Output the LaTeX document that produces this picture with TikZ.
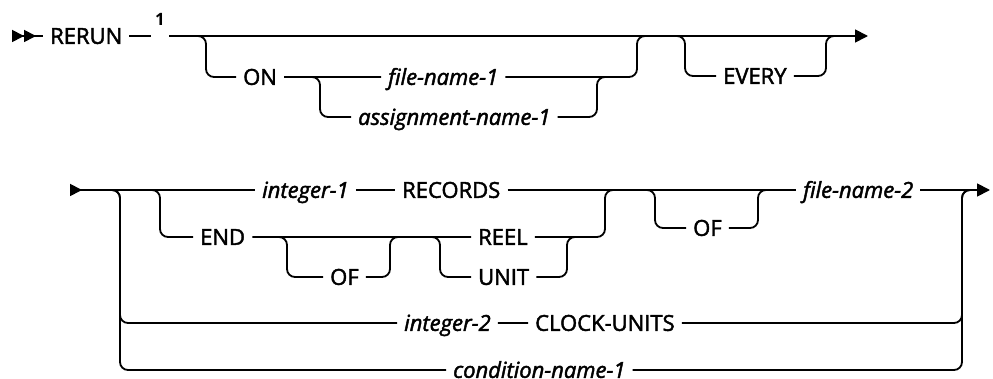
\documentclass[tikz,border=0pt]{standalone}
\usepackage{fontspec}
\setmainfont{Open Sans}
\newfontfamily\railfont{Open Sans}[FakeBold=2]
\usepackage{tikz}
\usetikzlibrary{arrows.meta,positioning,calc}

\begin{document}
\begin{tikzpicture}[x=1pt,y=-1pt]
\tikzstyle{K}=[inner xsep=7pt,inner ysep=0pt,anchor=west,text height=20.7pt,
text depth=5pt,font=\railfont\fontsize{22}{26}\selectfont]
\tikzstyle{V}=[K,font=\railfont\fontsize{22}{26}\selectfont\itshape]
\tikzstyle{R}=[line width=1.8pt,rounded corners=8pt]
\useasboundingbox (0,0) rectangle (993,379);
% first line
\coordinate (start) at (12,36);
\coordinate (end1) at (868,36);
\coordinate (onL) at (206,36);
\coordinate (onR) at (637,36);
\coordinate (asgL) at (320,77);
\coordinate (asgR) at (597,77);
\coordinate (evL) at (685,36);
\coordinate (evR) at (826,36);
\node[K](rerun) at (43,36){RERUN};
\node[inner xsep=4pt,inner ysep=0pt,anchor=base,font=\bfseries\fontsize{17}{20}\selectfont](note) at (160,26){1};
\node[K](on) at (236,77){ON};
\node[V](fn1) at (381,77){file-name-1};
\node[V](asg) at (351,117){assignment-name-1};
\node[K](every) at (716,76){EVERY};
\draw[R,{Triangle[reversed,length=12pt,width=12pt]Triangle[reversed,length=12pt,width=12pt]}-]
(start)--(rerun);
\draw[R](rerun)--(rerun-|note.west);
\draw[R,-{Triangle[length=13pt,width=13pt]}](rerun-|note.east)--(end1);
\draw[R]([xshift=-10pt]onL)--(onL)--(onL|-on)--(on)--(fn1)--(onR|-fn1)--(onR)--([xshift=10pt]onR);
\draw[R]([xshift=-10pt]asgL)--(asgL)--(asgL|-asg)--(asg)--(asgR|-asg)--(asgR)--([xshift=10pt]asgR);
\draw[R]([xshift=-10pt]evL)--(evL)--(evL|-every)--(every)--(evR|-every)--(evR)--([xshift=10pt]evR);
% second line
\coordinate (start2) at (70,190);
\coordinate (end2) at (990,190);
\coordinate (bigL) at (120,190);
\coordinate (bigR) at (962,190);
\coordinate (endL) at (160,190);
\coordinate (ofA) at (287,237);
\coordinate (ofB) at (390,237);
\coordinate (ruL) at (440,237);
\coordinate (ruR) at (567,237);
\coordinate (reelR) at (605,190);
\coordinate (of2L) at (655,190);
\coordinate (of2R) at (758,190);
\node[V](int1) at (255,190){integer-1};
\node[K](rec) at (395,190){RECORDS};
\node[K](endn) at (193,237){END};
\node[K](of1) at (323,277){OF};
\node[K](reel) at (471,237){REEL};
\node[K](unit) at (471,277){UNIT};
\node[K](of2) at (686,228){OF};
\node[V](fn2) at (796,190){file-name-2};
\node[V](int2) at (397,323){integer-2};
\node[K](clock) at (528,323){CLOCK-UNITS};
\node[V](cond) at (446,370){condition-name-1};
\draw[R,{Triangle[reversed,length=12pt,width=12pt]}-](start2)--(int1);
\draw[R](int1)--(rec);
\draw[R](rec)--(fn2);
\draw[R,-{Triangle[length=13pt,width=13pt]}](fn2)--(end2);
\draw[R]([xshift=-10pt]bigL)--(bigL)--(bigL|-int2)--(int2)--(clock)--(bigR|-clock)--(bigR)--([xshift=10pt]bigR);
\draw[R]([xshift=-10pt]bigL)--(bigL)--(bigL|-cond)--(cond)--(bigR|-cond)--(bigR)--([xshift=10pt]bigR);
\draw[R]([xshift=-10pt]endL)--(endL)--(endL|-endn)--(endn)--(reel)--(reelR|-reel)--(reelR)--([xshift=10pt]reelR);
\draw[R]([xshift=-10pt]ofA)--(ofA)--(ofA|-of1)--(of1)--(ofB|-of1)--(ofB)--([xshift=10pt]ofB);
\draw[R]([xshift=-10pt]ruL)--(ruL)--(ruL|-unit)--(unit)--(ruR|-unit)--(ruR)--([xshift=10pt]ruR);
\draw[R]([xshift=-10pt]of2L)--(of2L)--(of2L|-of2)--(of2)--(of2R|-of2)--(of2R)--([xshift=10pt]of2R);
\end{tikzpicture}
\end{document}
